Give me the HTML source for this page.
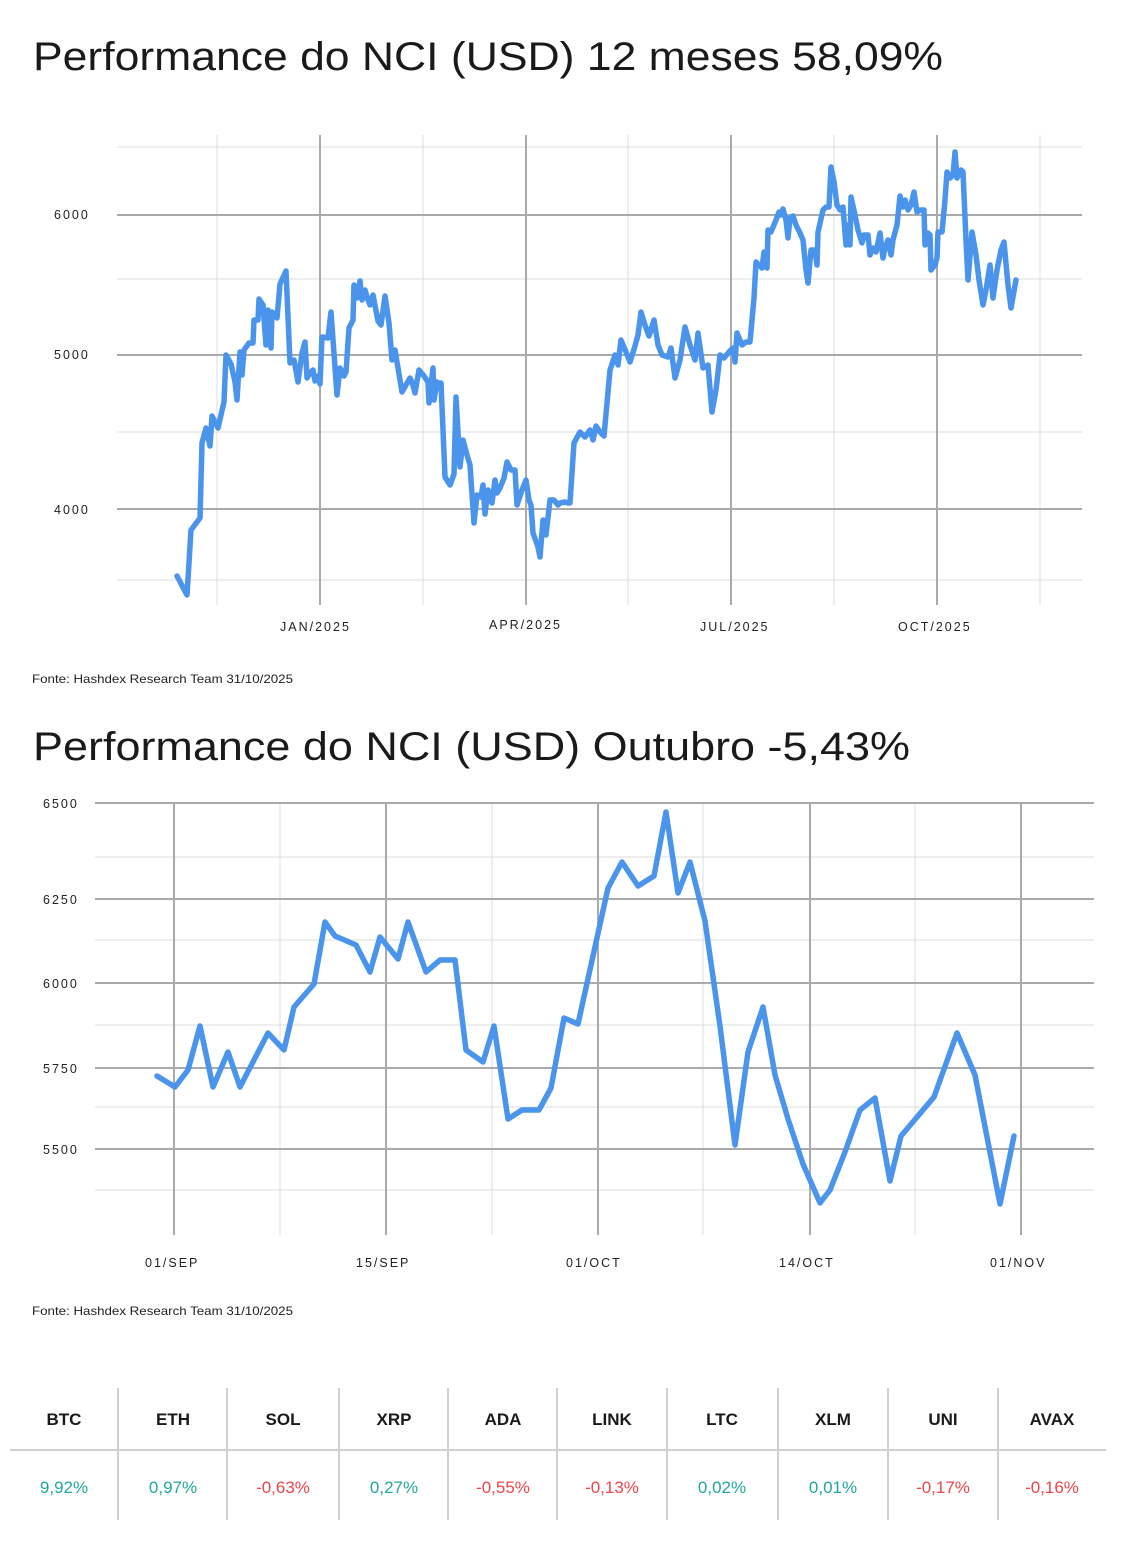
<!DOCTYPE html>
<html><head><meta charset="utf-8"><style>
html,body{margin:0;padding:0;background:#fff;}
svg{display:block;font-family:"Liberation Sans",sans-serif;}
</style></head><body>
<svg width="1132" height="1558" viewBox="0 0 1132 1558" xmlns="http://www.w3.org/2000/svg">
<rect width="1132" height="1558" fill="#fff"/>
<text x="33" y="70" font-size="40" fill="#1a1a1a" textLength="910" lengthAdjust="spacingAndGlyphs">Performance do NCI (USD) 12 meses 58,09%</text>
<g stroke="#dcdcdc" stroke-width="1">
<line x1="117" y1="147" x2="1082" y2="147"/><line x1="117" y1="279" x2="1082" y2="279"/>
<line x1="117" y1="432" x2="1082" y2="432"/><line x1="117" y1="580" x2="1082" y2="580"/>
<line x1="217" y1="135" x2="217" y2="605"/><line x1="423" y1="135" x2="423" y2="605"/>
<line x1="628" y1="135" x2="628" y2="605"/><line x1="834" y1="135" x2="834" y2="605"/>
<line x1="1040" y1="135" x2="1040" y2="605"/>
</g>
<g stroke="#aaa" stroke-width="2">
<line x1="117" y1="215" x2="1082" y2="215"/><line x1="117" y1="355" x2="1082" y2="355"/>
<line x1="117" y1="509" x2="1082" y2="509"/>
<line x1="320" y1="135" x2="320" y2="605"/><line x1="526" y1="135" x2="526" y2="605"/>
<line x1="731" y1="135" x2="731" y2="605"/><line x1="937" y1="135" x2="937" y2="605"/>
</g>
<g font-size="12.5" fill="#222" letter-spacing="2">
<text x="54" y="219">6000</text><text x="54" y="359">5000</text><text x="54" y="514">4000</text>
<text x="280" y="631">JAN/2025</text><text x="489" y="629">APR/2025</text>
<text x="700" y="631">JUL/2025</text><text x="898" y="631">OCT/2025</text>
</g>
<polyline fill="none" stroke="#4b94ec" stroke-width="5.5" stroke-linejoin="round" stroke-linecap="round" points="177,576 187,595 191,530 200,518 202,443 206,428 210,446 212,416 218,428 224,402 226,355 231,364 235,382 237,400 240,352 242,375 244,350 249,343 253,343 254,320 258,320 259,299 263,305 266,345 268,310 271,348 272,312 277,318 280,284 286,271 290,363 294,360 298,382 302,353 305,342 307,378 310,373 313,370 315,381 318,376 320,384 322,337 328,338 331,312 337,395 340,368 344,376 346,372 349,328 353,320 354,285 357,298 360,281 362,300 365,290 368,300 370,305 373,295 378,321 381,325 385,296 389,323 392,360 395,350 402,392 406,385 410,378 412,382 415,393 419,370 424,376 428,382 429,403 433,368 434,400 437,382 440,384 441,383 445,477 450,485 454,474 456,397 460,467 463,440 467,455 470,465 474,523 477,495 481,497 483,485 485,514 488,490 492,503 495,480 497,493 500,488 504,478 507,462 511,470 515,470 517,505 522,490 526,480 529,500 531,505 533,533 538,547 540,557 543,520 546,535 550,500 554,500 558,505 560,503 565,502 568,503 570,503 574,443 580,432 585,437 590,430 593,440 596,426 600,432 604,436 610,370 615,355 618,365 621,340 626,352 630,362 635,346 638,335 641,312 645,325 649,336 654,320 658,345 662,355 668,357 671,348 675,378 680,360 685,327 690,345 695,360 698,333 703,368 708,365 712,412 716,390 720,355 724,358 729,352 733,348 735,362 737,333 742,345 746,342 750,342 754,298 756,262 759,265 762,268 764,252 767,268 768,230 771,232 776,220 779,212 781,215 783,209 786,220 788,238 790,218 793,216 796,225 800,233 803,240 806,270 808,283 811,250 815,250 817,265 818,232 823,210 826,207 829,207 831,167 834,182 837,205 840,210 843,207 846,245 848,225 850,245 851,197 855,215 858,230 862,243 864,235 868,235 870,255 873,248 876,252 880,233 883,258 885,248 888,240 891,255 893,240 897,225 900,196 903,207 905,200 908,210 911,205 914,192 917,212 920,210 924,210 925,245 928,233 930,235 931,270 935,265 937,258 938,232 942,232 945,200 947,172 950,178 953,175 955,152 957,178 961,170 963,172 966,240 968,280 972,232 976,255 979,280 983,305 986,290 990,265 993,298 997,270 1001,250 1004,242 1008,285 1011,308 1016,280"/>
<text x="32" y="683" font-size="12" fill="#222" textLength="261" lengthAdjust="spacingAndGlyphs">Fonte: Hashdex Research Team 31/10/2025</text>

<text x="33" y="760" font-size="40" fill="#1a1a1a" textLength="877" lengthAdjust="spacingAndGlyphs">Performance do NCI (USD) Outubro -5,43%</text>
<g stroke="#dcdcdc" stroke-width="1">
<line x1="95" y1="857" x2="1094" y2="857"/><line x1="95" y1="940" x2="1094" y2="940"/>
<line x1="95" y1="1025" x2="1094" y2="1025"/><line x1="95" y1="1107" x2="1094" y2="1107"/>
<line x1="95" y1="1190" x2="1094" y2="1190"/>
<line x1="280" y1="803" x2="280" y2="1235"/><line x1="492" y1="803" x2="492" y2="1235"/>
<line x1="703" y1="803" x2="703" y2="1235"/><line x1="915" y1="803" x2="915" y2="1235"/>
</g>
<g stroke="#aaa" stroke-width="2">
<line x1="95" y1="803" x2="1094" y2="803"/><line x1="95" y1="899" x2="1094" y2="899"/>
<line x1="95" y1="983" x2="1094" y2="983"/><line x1="95" y1="1068" x2="1094" y2="1068"/>
<line x1="95" y1="1149" x2="1094" y2="1149"/>
<line x1="174" y1="803" x2="174" y2="1235"/><line x1="386" y1="803" x2="386" y2="1235"/>
<line x1="598" y1="803" x2="598" y2="1235"/><line x1="810" y1="803" x2="810" y2="1235"/>
<line x1="1021" y1="803" x2="1021" y2="1235"/>
</g>
<g font-size="12.5" fill="#222" letter-spacing="2">
<text x="43" y="808">6500</text><text x="43" y="904">6250</text><text x="43" y="988">6000</text>
<text x="43" y="1073">5750</text><text x="43" y="1154">5500</text>
<text x="145" y="1267">01/SEP</text><text x="356" y="1267">15/SEP</text>
<text x="566" y="1267">01/OCT</text><text x="779" y="1267">14/OCT</text><text x="990" y="1267">01/NOV</text>
</g>
<polyline fill="none" stroke="#4b94ec" stroke-width="5.5" stroke-linejoin="round" stroke-linecap="round" points="157,1076 175,1087 188,1070 200,1026 213,1087 228,1052 240,1087 268,1033 284,1050 294,1007 314,984 325,922 335,936 356,945 370,972 380,937 398,959 408,922 426,972 440,960 455,960 466,1050 483,1062 494,1026 508,1119 522,1110 539,1110 551,1088 564,1018 578,1024 608,888 622,862 638,886 654,876 666,812 678,893 690,862 705,921 720,1026 735,1145 748,1052 763,1007 775,1075 788,1119 803,1164 820,1203 830,1190 845,1152 860,1110 875,1098 890,1181 901,1136 934,1097 957,1033 975,1075 1000,1204 1014,1136"/>
<text x="32" y="1315" font-size="12" fill="#222" textLength="261" lengthAdjust="spacingAndGlyphs">Fonte: Hashdex Research Team 31/10/2025</text>

<g stroke="#d0d0d0" stroke-width="2">
<line x1="10" y1="1450" x2="1106" y2="1450"/>
<line x1="118" y1="1388" x2="118" y2="1520"/><line x1="227" y1="1388" x2="227" y2="1520"/>
<line x1="339" y1="1388" x2="339" y2="1520"/><line x1="448" y1="1388" x2="448" y2="1520"/>
<line x1="557" y1="1388" x2="557" y2="1520"/><line x1="667" y1="1388" x2="667" y2="1520"/>
<line x1="778" y1="1388" x2="778" y2="1520"/><line x1="888" y1="1388" x2="888" y2="1520"/>
<line x1="998" y1="1388" x2="998" y2="1520"/>
</g>
<g font-size="17" font-weight="bold" fill="#1a1a1a" text-anchor="middle">
<text x="64" y="1425">BTC</text><text x="173" y="1425">ETH</text><text x="283" y="1425">SOL</text>
<text x="394" y="1425">XRP</text><text x="503" y="1425">ADA</text><text x="612" y="1425">LINK</text>
<text x="722" y="1425">LTC</text><text x="833" y="1425">XLM</text><text x="943" y="1425">UNI</text>
<text x="1052" y="1425">AVAX</text>
</g>
<g font-size="17" text-anchor="middle">
<text x="64" y="1493" fill="#1fa89c">9,92%</text><text x="173" y="1493" fill="#1fa89c">0,97%</text>
<text x="283" y="1493" fill="#f0454a">-0,63%</text><text x="394" y="1493" fill="#1fa89c">0,27%</text>
<text x="503" y="1493" fill="#f0454a">-0,55%</text><text x="612" y="1493" fill="#f0454a">-0,13%</text>
<text x="722" y="1493" fill="#1fa89c">0,02%</text><text x="833" y="1493" fill="#1fa89c">0,01%</text>
<text x="943" y="1493" fill="#f0454a">-0,17%</text><text x="1052" y="1493" fill="#f0454a">-0,16%</text>
</g>
</svg>
</body></html>
